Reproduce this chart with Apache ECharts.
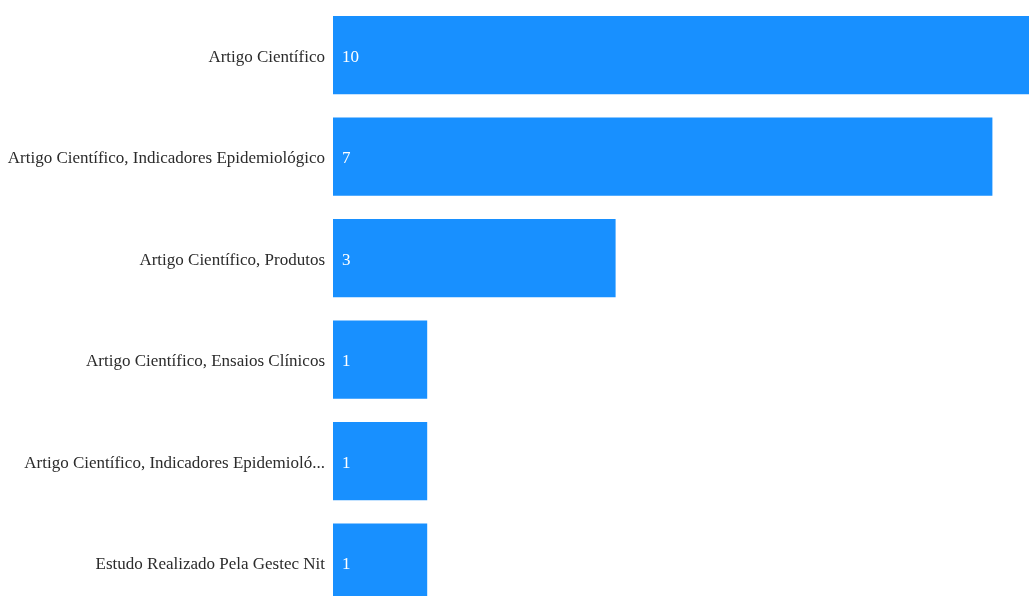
<!DOCTYPE html>
<html>
<head>
<meta charset="utf-8">
<script src="https://cdn.jsdelivr.net/npm/echarts@6/dist/echarts.min.js"></script>
<style>
  html, body { margin: 0; padding: 0; background: #fff; overflow: hidden; }
  #chart { width: 1029px; height: 596px; }
</style>
</head>
<body>
<div id="chart"></div>
<script>
// Publication types and how many studies fall in each
const categories = [
  'Artigo Científico',
  'Artigo Científico, Indicadores Epidemiológico',
  'Artigo Científico, Produtos',
  'Artigo Científico, Ensaios Clínicos',
  'Artigo Científico, Indicadores Epidemiológico, Produtos',
  'Estudo Realizado Pela Gestec Nit'
];
const counts = [10, 7, 3, 1, 1, 1];

const serif = '"Liberation Serif", "Times New Roman", serif';

const chart = echarts.init(document.getElementById('chart'));
chart.setOption({
  animation: false,
  // the plot runs past the right and bottom edges of the canvas
  grid: { left: 333, top: 4.4, width: 942, height: 609, outerBoundsMode: 'none', containLabel: false },
  xAxis: {
    type: 'value',
    min: 0,
    max: 10,
    show: false
  },
  yAxis: {
    type: 'category',
    inverse: true,
    data: categories,
    axisLine: { show: false },
    axisTick: { show: false },
    splitLine: { show: false },
    axisLabel: {
      margin: 8,
      color: '#2b2b2b',
      fontFamily: serif,
      fontSize: 17,
      width: 322,
      overflow: 'truncate',
      lineHeight: 17,
      verticalAlign: 'middle',
      rich: {},
      padding: [4, 0, 0, 0]
    }
  },
  series: [{
    type: 'bar',
    data: counts,
    barCategoryGap: '23%',
    itemStyle: { color: '#1890ff' },
    label: {
      show: true,
      position: 'insideLeft',
      distance: 9,
      offset: [0, 2],
      color: '#fff',
      fontFamily: serif,
      fontSize: 17
    }
  }]
});
</script>
</body>
</html>
